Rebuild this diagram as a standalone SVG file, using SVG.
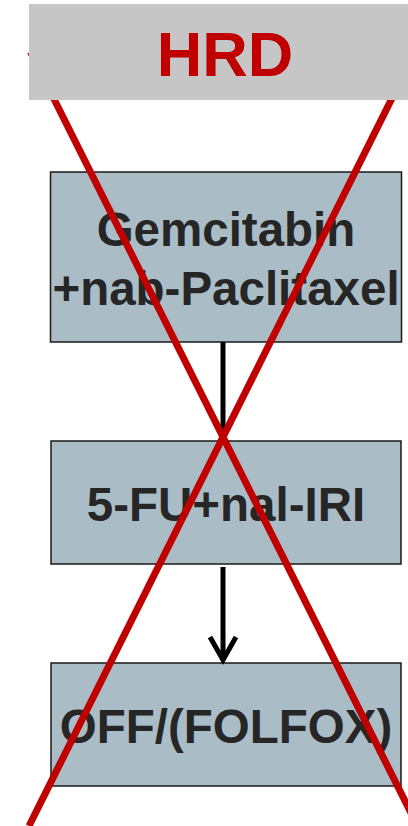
<svg xmlns="http://www.w3.org/2000/svg" width="408" height="826" viewBox="0 0 408 826">
  <style>
    .box { fill: #aabdc6; stroke: #1a1a1a; stroke-width: 1.5; }
    .label { font-family: "Liberation Sans", Arial, sans-serif; font-weight: bold; font-size: 47.5px; fill: #262626; text-anchor: middle; }
    .conn { stroke: #000; stroke-width: 5; fill: none; }
    .cross { stroke: #c00000; stroke-width: 7; fill: none; }
  </style>
  <rect width="408" height="826" fill="#fff"/>

  <g id="node-gem">
    <rect class="box" x="50.5" y="172" width="351" height="170"/>
    <text class="label" x="226" y="246">Gemcitabin</text>
    <text class="label" x="226" y="305">+nab-Paclitaxel</text>
  </g>

  <g id="node-5fu">
    <rect class="box" x="51" y="441" width="350" height="123"/>
    <text class="label" x="226" y="521">5-FU+nal-IRI</text>
  </g>

  <g id="node-off">
    <rect class="box" x="51" y="663" width="350" height="123"/>
    <text class="label" x="226" y="743">OFF/(FOLFOX)</text>
  </g>

  <g id="connectors">
    <line class="conn" x1="223" y1="342" x2="223" y2="440"/>
    <line class="conn" x1="223" y1="567" x2="223" y2="658"/>
    <polyline class="conn" points="210,637 223,660 236,637"/>
  </g>

  <!-- strike-through cross -->
  <g id="cross">
    <line class="cross" x1="30.5" y1="52" x2="418" y2="827"/>
    <line class="cross" x1="421" y1="40" x2="29" y2="826"/>
  </g>

  <g id="node-hrd">
    <rect x="29" y="4" width="379" height="96" fill="#c6c6c6"/>
    <text x="225" y="76" font-family="'Liberation Sans', Arial, sans-serif" font-weight="bold" font-size="63" fill="#c00000" text-anchor="middle">HRD</text>
  </g>
</svg>
